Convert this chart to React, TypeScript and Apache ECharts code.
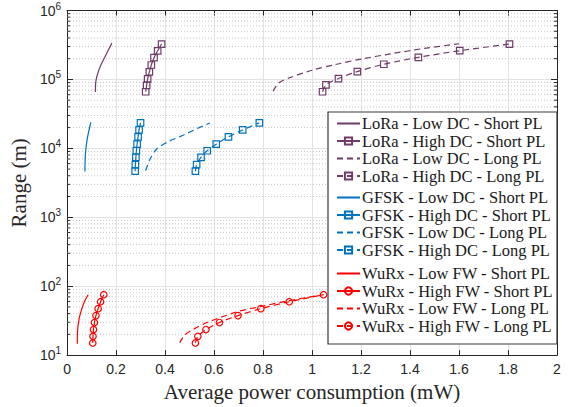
import React, { useEffect, useRef } from "react";
import * as echarts from "echarts";

const PURPLE = "#6F3B68";
const BLUE = "#0072BD";
const RED = "#FF0000";

// LoRa
const loraLowShortX = [0.116, 0.117, 0.123, 0.136, 0.157, 0.183];
const loraLowShortY = [65500, 89300, 114000, 155000, 221000, 336000];
const loraHighShortX = [0.321, 0.325, 0.329, 0.336, 0.344, 0.355, 0.37, 0.386];
const loraHighShortY = [66200, 81700, 102000, 128500, 162000, 207000, 260000, 326000];
const loraLowLongX = [0.841, 0.865, 0.906, 1.0, 1.094, 1.202, 1.324, 1.459, 1.6];
const loraLowLongY = [67600, 89300, 105000, 136000, 164000, 198000, 236000, 282000, 329000];
const loraHighLongX = [1.043, 1.057, 1.108, 1.185, 1.293, 1.434, 1.603, 1.806];
const loraHighLongY = [66200, 83600, 103000, 130000, 166000, 209000, 261000, 326000];

// GFSK
const gfskLowShortX = [0.0729, 0.0741, 0.0769, 0.0823, 0.089, 0.097];
const gfskLowShortY = [4600, 7010, 9770, 13600, 17900, 23700];
const gfskHighShortX = [0.278, 0.279, 0.281, 0.283, 0.286, 0.29, 0.294, 0.3];
const gfskHighShortY = [4670, 5800, 7410, 9230, 11500, 14700, 18500, 23400];
const gfskLowLongX = [0.321, 0.339, 0.366, 0.413, 0.474, 0.537, 0.582];
const gfskLowLongY = [4750, 7010, 9800, 12500, 15500, 19800, 23200];
const gfskHighLongX = [0.524, 0.529, 0.547, 0.572, 0.609, 0.659, 0.717, 0.785];
const gfskHighLongY = [4670, 5800, 7410, 9230, 11500, 14700, 18500, 23400];

// WuRx
const wurxLowShortX = [0.042, 0.043, 0.0486, 0.0595, 0.0717, 0.0862];
const wurxLowShortY = [14.6, 22.3, 32.8, 45.7, 60.4, 75.2];
const wurxHighShortX = [0.105, 0.106, 0.108, 0.112, 0.118, 0.127, 0.137, 0.15];
const wurxHighShortY = [15.0, 18.7, 23.5, 29.7, 37.4, 47.2, 59.5, 75.2];
const wurxLowLongX = [0.46, 0.48, 0.514, 0.568, 0.622, 0.703, 0.798, 0.906, 1.047];
const wurxLowLongY = [15.1, 19.5, 23.5, 29.4, 34.7, 43.4, 51.2, 61.7, 75.2];
const wurxHighLongX = [0.524, 0.534, 0.567, 0.622, 0.698, 0.791, 0.907, 1.047];
const wurxHighLongY = [15.0, 18.7, 23.5, 29.7, 37.4, 47.2, 59.5, 75.2];

const legendGroups = [
  [
    "LoRa - Low DC - Short PL",
    "LoRa - High DC - Short PL",
    "LoRa - Low DC - Long PL",
    "LoRa - High DC - Long PL",
  ],
  [
    "GFSK - Low DC - Short PL",
    "GFSK - High DC - Short PL",
    "GFSK - Low DC - Long PL",
    "GFSK - High DC - Long PL",
  ],
  [
    "WuRx - Low FW - Short PL",
    "WuRx - High FW - Short PL",
    "WuRx - Low FW - Long PL",
    "WuRx - High FW - Long PL",
  ],
];

const minorValues: number[] = [];
for (let e = 1; e < 6; e++) {
  for (let m = 2; m <= 9; m++) minorValues.push(m * Math.pow(10, e));
}

const zip = (xs: number[], ys: number[]) => xs.map((x, i) => [x, ys[i]]);

const AXIS_COLOR = "#262626";

function makeSeries(
  name: string,
  xs: number[],
  ys: number[],
  color: string,
  dashed: boolean,
  symbol: string | null
) {
  return {
    name,
    type: "line",
    data: zip(xs, ys),
    smooth: 0.3,
    z: 3,
    symbol: symbol || "none",
    showSymbol: !!symbol,
    symbolSize: 6.5,
    lineStyle: { color, width: 1.2, type: dashed ? [6, 4] : "solid" },
    itemStyle: symbol
      ? { color: "rgba(0,0,0,0)", borderColor: color, borderWidth: 1.2 }
      : { color: "rgba(0,0,0,0)", borderColor: "rgba(0,0,0,0)", borderWidth: 0 },
    emphasis: { disabled: true },
  };
}

export default function App() {
  const ref = useRef<HTMLDivElement>(null);
  useEffect(() => {
    if (!ref.current) return;
    const chart = echarts.init(ref.current, undefined, { renderer: "svg" });
    const series: any[] = [
      makeSeries(legendGroups[0][0], loraLowShortX, loraLowShortY, PURPLE, false, null),
      makeSeries(legendGroups[0][1], loraHighShortX, loraHighShortY, PURPLE, false, "rect"),
      makeSeries(legendGroups[0][2], loraLowLongX, loraLowLongY, PURPLE, true, null),
      makeSeries(legendGroups[0][3], loraHighLongX, loraHighLongY, PURPLE, true, "rect"),
      makeSeries(legendGroups[1][0], gfskLowShortX, gfskLowShortY, BLUE, false, null),
      makeSeries(legendGroups[1][1], gfskHighShortX, gfskHighShortY, BLUE, false, "rect"),
      makeSeries(legendGroups[1][2], gfskLowLongX, gfskLowLongY, BLUE, true, null),
      makeSeries(legendGroups[1][3], gfskHighLongX, gfskHighLongY, BLUE, true, "rect"),
      makeSeries(legendGroups[2][0], wurxLowShortX, wurxLowShortY, RED, false, null),
      makeSeries(legendGroups[2][1], wurxHighShortX, wurxHighShortY, RED, false, "circle"),
      makeSeries(legendGroups[2][2], wurxLowLongX, wurxLowLongY, RED, true, null),
      makeSeries(legendGroups[2][3], wurxHighLongX, wurxHighLongY, RED, true, "circle"),
      {
        name: "minor",
        type: "custom",
        z: 1,
        silent: true,
        data: minorValues.map((v) => [0, v]),
        renderItem: (params: any, api: any) => {
          const v = api.value(1);
          const p1 = api.coord([0, v]);
          const p2 = api.coord([2, v]);
          return {
            type: "group",
            children: [
              {
                type: "line",
                shape: { x1: p1[0], y1: p1[1], x2: p2[0], y2: p2[1] },
                style: { stroke: "#c4c4c4", lineWidth: 1, lineDash: [1, 2] },
              },
              {
                type: "line",
                shape: { x1: p1[0], y1: p1[1], x2: p1[0] + 3, y2: p1[1] },
                style: { stroke: AXIS_COLOR, lineWidth: 1 },
              },
              {
                type: "line",
                shape: { x1: p2[0] - 3, y1: p2[1], x2: p2[0], y2: p2[1] },
                style: { stroke: AXIS_COLOR, lineWidth: 1 },
              },
            ],
          };
        },
      },
    ];

    const legendTops = [115, 189, 265];
    const option: any = {
      animation: false,
      grid: { left: 63, right: 17, top: 10.5, bottom: 50, containLabel: false },
      xAxis: [
        {
          type: "value",
          min: 0,
          max: 2,
          interval: 0.2,
          name: "Average power consumption (mW)",
          nameLocation: "middle",
          nameGap: 20,
          nameTextStyle: { fontFamily: "Liberation Serif", fontSize: 21, color: AXIS_COLOR },
          axisLine: { show: true, onZero: false, lineStyle: { color: AXIS_COLOR } },
          axisTick: { show: true, inside: true, length: 5, lineStyle: { color: AXIS_COLOR } },
          axisLabel: { fontFamily: "Liberation Sans", fontSize: 14, color: AXIS_COLOR, margin: 7 },
          splitLine: { show: true, lineStyle: { color: "#e3e3e3", width: 1 } },
        },
        {
          type: "value",
          position: "top",
          min: 0,
          max: 2,
          interval: 0.2,
          axisLine: { show: true, onZero: false, lineStyle: { color: AXIS_COLOR } },
          axisTick: { show: true, inside: true, length: 5, lineStyle: { color: AXIS_COLOR } },
          axisLabel: { show: false },
          splitLine: { show: false },
        },
      ],
      yAxis: [
        {
          type: "log",
          logBase: 10,
          min: 10,
          max: 1000000,
          splitNumber: 5,
          name: "Range (m)",
          nameLocation: "middle",
          nameGap: 28,
          nameTextStyle: { fontFamily: "Liberation Serif", fontSize: 21, color: AXIS_COLOR },
          axisLine: { show: true, onZero: false, lineStyle: { color: AXIS_COLOR } },
          axisTick: { show: true, inside: true, length: 6, lineStyle: { color: AXIS_COLOR } },
          axisLabel: {
            margin: 6,
            formatter: (v: number) => `{b|10}{s|${Math.round(Math.log10(v))}}`,
            rich: {
              b: { fontFamily: "Liberation Sans", fontSize: 14, color: AXIS_COLOR },
              s: {
                fontFamily: "Liberation Sans",
                fontSize: 10,
                color: AXIS_COLOR,
                padding: [0, 0, 9, 0],
              },
            },
          },
          splitLine: { show: true, lineStyle: { color: "#e3e3e3", width: 1 } },
        },
        {
          type: "log",
          logBase: 10,
          min: 10,
          max: 1000000,
          splitNumber: 5,
          position: "right",
          axisLine: { show: true, onZero: false, lineStyle: { color: AXIS_COLOR } },
          axisTick: { show: true, inside: true, length: 6, lineStyle: { color: AXIS_COLOR } },
          axisLabel: { show: false },
          splitLine: { show: false },
        },
      ],
      legend: legendGroups.map((names, i) => ({
        orient: "vertical",
        left: 336,
        top: legendTops[i],
        data: names,
        itemWidth: 23,
        itemHeight: 9,
        itemGap: 0.5,
        padding: 0,
        selectedMode: false,
        z: 5,
        textStyle: {
          fontFamily: "Liberation Serif",
          fontSize: 16.5,
          lineHeight: 16.5,
          color: "#1a1a1a",
          padding: [0, 0, 0, -3],
        },
      })),
      graphic: {
        elements: [
          {
            type: "rect",
            z: 4,
            shape: { x: 328, y: 112, width: 229, height: 232 },
            style: { fill: "#ffffff", stroke: "#3a3a3a", lineWidth: 1.2 },
          },
        ],
      },
      series,
    };
    chart.setOption(option);
    return () => chart.dispose();
  }, []);
  return (
    <div
      ref={ref}
      style={{ position: "fixed", left: 0, top: 0, width: 574, height: 407, background: "#fff" }}
    />
  );
}
